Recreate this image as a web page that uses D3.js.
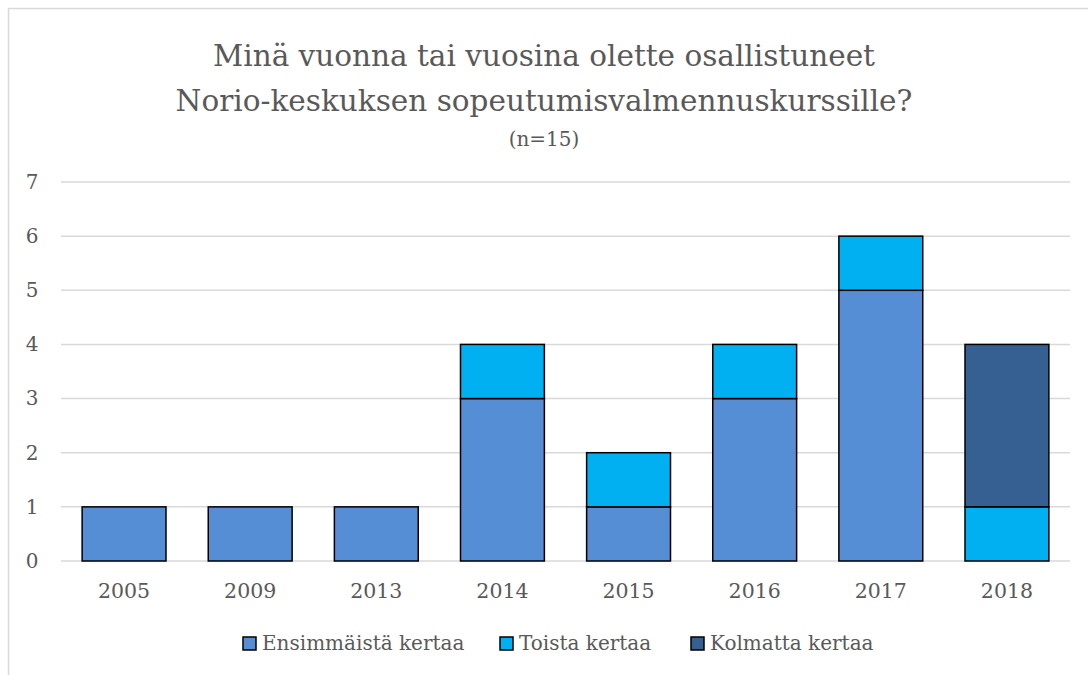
<!DOCTYPE html>
<html>
<head>
<meta charset="utf-8">
<script src="https://cdn.jsdelivr.net/npm/d3@7"></script>
<style>
  body { margin: 0; background: #fff; }
  svg { display: block; }
  text { fill: #595959; }
</style>
</head>
<body>
<svg id="chart" width="1088" height="675"></svg>
<script>
// chart data
const years = ["2005", "2009", "2013", "2014", "2015", "2016", "2017", "2018"];
const seriesNames = ["Ensimmäistä kertaa", "Toista kertaa", "Kolmatta kertaa"];
const first = [1, 1, 1, 3, 1, 3, 5, 0];
const second = [0, 0, 0, 1, 1, 1, 1, 1];
const third = [0, 0, 0, 0, 0, 0, 0, 3];
const yTicks = [0, 1, 2, 3, 4, 5, 6, 7];
const titleLines = ["Minä vuonna tai vuosina olette osallistuneet", "Norio-keskuksen sopeutumisvalmennuskurssille?"];
const subtitle = "(n=15)";

const colours = ["#558ed5", "#00b0f0", "#376092"];
const serif = "'DejaVu Serif', 'Liberation Serif', serif";

const svg = d3.select("#chart");

// outer chart frame
svg.append("rect")
  .attr("x", 8.5).attr("y", 8.5)
  .attr("width", 1100).attr("height", 700)
  .attr("fill", "none").attr("stroke", "#d9d9d9").attr("stroke-width", 1.5);

const rows = years.map((y, i) => ({ year: y, s0: first[i], s1: second[i], s2: third[i] }));
const stack = d3.stack().keys(["s0", "s1", "s2"])(rows);

const x = d3.scaleBand().domain(years).range([61, 1070]).paddingInner(0.335).paddingOuter(0.1675);
const y = d3.scaleLinear().domain([0, 7]).range([561, 182]);

// gridlines
svg.append("g")
  .selectAll("line")
  .data(yTicks)
  .join("line")
  .attr("x1", 61).attr("x2", 1070)
  .attr("y1", d => y(d)).attr("y2", d => y(d))
  .attr("stroke", "#d9d9d9").attr("stroke-width", 1.5);

// y axis labels
const yAxis = svg.append("g")
  .attr("transform", "translate(40,0)")
  .call(d3.axisLeft(y).tickValues(yTicks).tickSize(0).tickPadding(0).tickFormat(d3.format("d")));
yAxis.select(".domain").remove();
yAxis.selectAll("text")
  .attr("font-family", serif).attr("font-size", 20).attr("fill", "#595959")
  .attr("text-anchor", "middle").attr("dx", -8);

// x axis labels
const xAxis = svg.append("g")
  .attr("transform", "translate(0,561)")
  .call(d3.axisBottom(x).tickSize(0).tickPadding(22));
xAxis.select(".domain").remove();
xAxis.selectAll("text")
  .attr("font-family", serif).attr("font-size", 20.5).attr("fill", "#595959");

// stacked bars
svg.append("g")
  .selectAll("g")
  .data(stack)
  .join("g")
  .attr("fill", (d, i) => colours[i])
  .selectAll("rect")
  .data(d => d.filter(p => p[1] > p[0]))
  .join("rect")
  .attr("x", d => x(d.data.year))
  .attr("width", x.bandwidth())
  .attr("y", d => y(d[1]))
  .attr("height", d => y(d[0]) - y(d[1]))
  .attr("stroke", "#000").attr("stroke-width", 1.5);

// title
const title = svg.append("text")
  .attr("text-anchor", "middle")
  .attr("font-family", serif).attr("font-size", 29.5).attr("fill", "#595959");
title.selectAll("tspan")
  .data(titleLines)
  .join("tspan")
  .attr("x", 544)
  .attr("y", (d, i) => 66 + i * 45)
  .text(d => d);
svg.append("text")
  .attr("x", 544).attr("y", 146)
  .attr("text-anchor", "middle")
  .attr("font-family", serif).attr("font-size", 20).attr("fill", "#595959")
  .text(subtitle);

// legend
const legendX = [243, 500, 691];
const legend = svg.append("g")
  .selectAll("g")
  .data(seriesNames)
  .join("g")
  .attr("transform", (d, i) => `translate(${legendX[i]},637)`);
legend.append("rect")
  .attr("width", 13).attr("height", 13)
  .attr("fill", (d, i) => colours[i])
  .attr("stroke", "#000").attr("stroke-width", 1.5);
legend.append("text")
  .attr("x", 19).attr("y", 13)
  .attr("font-family", serif).attr("font-size", 20).attr("fill", "#595959")
  .text(d => d);
</script>
</body>
</html>
